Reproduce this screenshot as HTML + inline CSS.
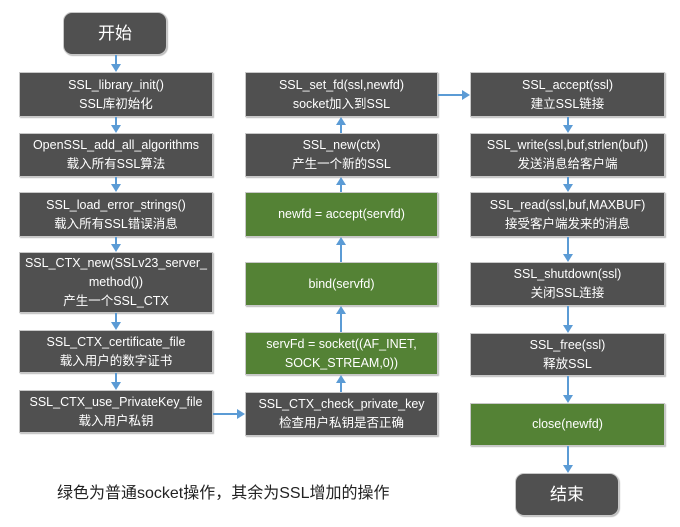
<!DOCTYPE html>
<html><head><meta charset="utf-8"><style>
body{margin:0;width:680px;height:527px;background:#fff;position:relative;overflow:hidden;font-family:"Liberation Sans","Noto Sans CJK SC",sans-serif;}
.b{position:absolute;box-sizing:border-box;color:#fff;font-size:12.5px;line-height:19px;text-align:center;display:flex;align-items:center;justify-content:center;background:#505050;border:1px solid #c8c8c8;box-shadow:1px 1px 1px #bbb;}
.g{background:#548235;}
.r{border-radius:9px;font-size:17px;}
.v{position:absolute;width:2px;background:#5b9bd5;}
.h{position:absolute;height:2px;background:#5b9bd5;}
.td{position:absolute;width:0;height:0;border-left:5px solid transparent;border-right:5px solid transparent;border-top:8px solid #5b9bd5;}
.tu{position:absolute;width:0;height:0;border-left:5px solid transparent;border-right:5px solid transparent;border-bottom:8px solid #5b9bd5;}
.tr{position:absolute;width:0;height:0;border-top:5px solid transparent;border-bottom:5px solid transparent;border-left:8px solid #5b9bd5;}
</style></head><body>
<div class="b r" style="left:63px;top:12px;width:104px;height:43px">开始</div>
<div class="b" style="left:19px;top:72px;width:194px;height:45px">SSL_library_init()<br>SSL库初始化</div>
<div class="b" style="left:19px;top:133px;width:194px;height:44px">OpenSSL_add_all_algorithms<br>载入所有SSL算法</div>
<div class="b" style="left:19px;top:192px;width:194px;height:45px">SSL_load_error_strings()<br>载入所有SSL错误消息</div>
<div class="b" style="left:19px;top:252px;width:194px;height:61px">SSL_CTX_new(SSLv23_server_<br>method())<br>产生一个SSL_CTX</div>
<div class="b" style="left:19px;top:330px;width:194px;height:43px">SSL_CTX_certificate_file<br>载入用户的数字证书</div>
<div class="b" style="left:19px;top:390px;width:194px;height:43px">SSL_CTX_use_PrivateKey_file<br>载入用户私钥</div>

<div class="b" style="left:245px;top:72px;width:193px;height:45px">SSL_set_fd(ssl,newfd)<br>socket加入到SSL</div>
<div class="b" style="left:245px;top:133px;width:193px;height:44px">SSL_new(ctx)<br>产生一个新的SSL</div>
<div class="b g" style="left:245px;top:192px;width:193px;height:45px">newfd = accept(servfd)</div>
<div class="b g" style="left:245px;top:262px;width:193px;height:44px">bind(servfd)</div>
<div class="b g" style="left:245px;top:332px;width:193px;height:43px">servFd = socket((AF_INET,<br>SOCK_STREAM,0))</div>
<div class="b" style="left:245px;top:392px;width:193px;height:44px">SSL_CTX_check_private_key<br>检查用户私钥是否正确</div>

<div class="b" style="left:470px;top:72px;width:195px;height:45px">SSL_accept(ssl)<br>建立SSL链接</div>
<div class="b" style="left:470px;top:133px;width:195px;height:44px">SSL_write(ssl,buf,strlen(buf))<br>发送消息给客户端</div>
<div class="b" style="left:470px;top:192px;width:195px;height:45px">SSL_read(ssl,buf,MAXBUF)<br>接受客户端发来的消息</div>
<div class="b" style="left:470px;top:262px;width:195px;height:44px">SSL_shutdown(ssl)<br>关闭SSL连接</div>
<div class="b" style="left:470px;top:333px;width:195px;height:43px">SSL_free(ssl)<br>释放SSL</div>
<div class="b g" style="left:470px;top:403px;width:195px;height:43px">close(newfd)</div>
<div class="b r" style="left:515px;top:473px;width:104px;height:43px">结束</div>

<div class="v" style="left:115px;top:55px;height:10px"></div><div class="td" style="left:111px;top:64px"></div>
<div class="v" style="left:115px;top:117px;height:8px"></div><div class="td" style="left:111px;top:125px"></div>
<div class="v" style="left:115px;top:177px;height:7px"></div><div class="td" style="left:111px;top:184px"></div>
<div class="v" style="left:115px;top:237px;height:7px"></div><div class="td" style="left:111px;top:244px"></div>
<div class="v" style="left:115px;top:313px;height:9px"></div><div class="td" style="left:111px;top:322px"></div>
<div class="v" style="left:115px;top:373px;height:9px"></div><div class="td" style="left:111px;top:382px"></div>

<div class="v" style="left:340px;top:383px;height:9px"></div><div class="tu" style="left:336px;top:375px"></div>
<div class="v" style="left:340px;top:314px;height:18px"></div><div class="tu" style="left:336px;top:306px"></div>
<div class="v" style="left:340px;top:245px;height:17px"></div><div class="tu" style="left:336px;top:237px"></div>
<div class="v" style="left:340px;top:185px;height:7px"></div><div class="tu" style="left:336px;top:177px"></div>
<div class="v" style="left:340px;top:125px;height:8px"></div><div class="tu" style="left:336px;top:117px"></div>

<div class="v" style="left:567px;top:117px;height:8px"></div><div class="td" style="left:563px;top:125px"></div>
<div class="v" style="left:567px;top:177px;height:7px"></div><div class="td" style="left:563px;top:184px"></div>
<div class="v" style="left:567px;top:237px;height:17px"></div><div class="td" style="left:563px;top:254px"></div>
<div class="v" style="left:567px;top:306px;height:19px"></div><div class="td" style="left:563px;top:325px"></div>
<div class="v" style="left:567px;top:376px;height:19px"></div><div class="td" style="left:563px;top:395px"></div>
<div class="v" style="left:567px;top:446px;height:19px"></div><div class="td" style="left:563px;top:465px"></div>

<div class="h" style="left:213px;top:413px;width:25px"></div><div class="tr" style="left:237px;top:409px"></div>
<div class="h" style="left:438px;top:94px;width:25px"></div><div class="tr" style="left:462px;top:90px"></div>

<div style="position:absolute;left:57px;top:479px;font-size:16px;color:#222;white-space:nowrap">绿色为普通socket操作，其余为SSL增加的操作</div>
</body></html>
